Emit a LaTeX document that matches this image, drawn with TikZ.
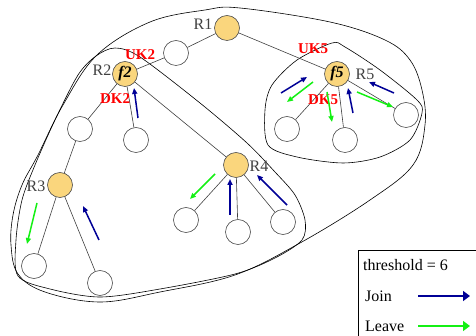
\documentclass[tikz,border=0pt]{standalone}
\usepackage{fontspec}
\setmainfont{Liberation Serif}
\usetikzlibrary{arrows.meta}
\definecolor{rootfill}{RGB}{250,214,125}
\definecolor{joinblue}{RGB}{0,0,150}
\definecolor{leavegreen}{RGB}{20,240,20}
\begin{document}
\begin{tikzpicture}[x=1pt,y=-1pt,
    member/.style={circle,draw=black!70,fill=white,minimum size=25pt,inner sep=0pt,line width=0.6pt},
    router/.style={member,fill=rootfill,font=\fontsize{16}{16}\selectfont\bfseries\itshape},
    rname/.style={font=\fontsize{16}{16}\selectfont,text=black!75,inner sep=0pt},
    keyname/.style={font=\fontsize{15}{15}\selectfont\bfseries,text=red,inner sep=0pt},
    link/.style={draw=black!75,line width=0.6pt},
    region/.style={draw=black,line width=0.6pt},
    joinarrow/.style={draw=joinblue,line width=1.5pt,-{Triangle[length=6pt,width=5pt]}},
    leavearrow/.style={draw=leavegreen,line width=1.5pt,-{Triangle[length=6pt,width=5pt]}},
    legendtext/.style={font=\fontsize{16}{16}\selectfont,anchor=west,inner sep=0pt}]
  \useasboundingbox (0,0) rectangle (476,336);
  % regions
  \draw[region] plot[smooth cycle,tension=0.6] coordinates {(240,8) (330,22) (385,40) (410,60) (422,90)
    (425,125) (413,165) (370,200) (300,243) (235,275) (160,292) (100,302) (45,292) (18,274) (11,245)
    (13,215) (22,185) (38,155) (63,105) (97,55) (150,22) (205,10)};
  \draw[region] plot[smooth cycle,tension=0.5] coordinates {(115,48) (140,57) (200,103) (247,143)
    (275,172) (295,195) (305,220) (302,240) (275,258) (235,274) (160,289) (100,297) (50,289)
    (18,276) (16,240) (22,200) (35,165) (55,120) (78,75) (96,56)};
  \draw[region] plot[smooth cycle,tension=0.5] coordinates {(332,43) (297,60) (272,85) (265,110)
    (268,145) (297,157) (343,163) (380,157) (410,140) (422,113) (417,100) (380,70) (345,47)};
  % routers and members
  \node[router] (r1) at (227,28) {};
  \node[member] (w1) at (176,53) {};
  \node[router] (r2) at (125,74) {f2};
  \node[member] (w2) at (80,129) {};
  \node[member] (w3) at (136,140) {};
  \node[router] (r3) at (60,185) {};
  \node[member] (w4) at (34,266) {};
  \node[member] (w5) at (100,283) {};
  \node[router] (r4) at (236,165) {};
  \node[member] (w6) at (186,220) {};
  \node[member] (w7) at (238,232) {};
  \node[member] (w8) at (283,222) {};
  \node[router] (r5) at (337,74) {f5};
  \node[member] (w9) at (287,129) {};
  \node[member] (w10) at (345,140) {};
  \node[member] (w11) at (406,115) {};
  % tree links
  \draw[link] (r1)--(w1)--(r2);
  \draw[link] (r2)--(w2)--(r3);
  \draw[link] (r2)--(w3);
  \draw[link] (r3)--(w4);
  \draw[link] (r3)--(w5);
  \draw[link] (r2)--(r4);
  \draw[link] (r4)--(w6);
  \draw[link] (r4)--(w7);
  \draw[link] (r4)--(w8);
  \draw[link] (r1)--(r5);
  \draw[link] (r5)--(w9);
  \draw[link] (r5)--(w10);
  \draw[link] (r5)--(w11);
  % names and keys
  \node[rname] (n1) at (203,24) {R1};
  \node[rname] (n2) at (102,70) {R2};
  \node[rname] (n3) at (36,186) {R3};
  \node[rname] (n4) at (259,166) {R4};
  \node[rname] (n5) at (365,74) {R5};
  \node[keyname] (uk2) at (140,55) {UK2};
  \node[keyname] (dk2) at (115,99) {DK2};
  \node[keyname] (uk5) at (313,49) {UK5};
  \node[keyname] (dk5) at (323,100) {DK5};
  % join and leave events
  \draw[joinarrow] (138,118) -- (134,88);
  \draw[leavearrow] (37,203) -- (27,244);
  \draw[joinarrow] (99,240) -- (83,206);
  \draw[leavearrow] (215,174) -- (190,199);
  \draw[joinarrow] (230,215) -- (230,179);
  \draw[joinarrow] (287,205) -- (257,175);
  \draw[joinarrow] (281,93) -- (307,77);
  \draw[leavearrow] (313,82) -- (287,102);
  \draw[leavearrow] (327,92) -- (332,122);
  \draw[joinarrow] (353,113) -- (348,88);
  \draw[leavearrow] (357,92) -- (393,107);
  \draw[joinarrow] (394,93) -- (369,82);
  % legend
  \draw[line width=0.6pt] (477,250) -- (358,250) -- (358,337);
  \node[legendtext] (thr) at (363,265) {threshold = 6};
  \node[legendtext] (jn) at (365,296) {Join};
  \node[legendtext] (lv) at (365,326) {Leave};
  \coordinate (js) at (418,296);
  \coordinate (je) at (470,296);
  \coordinate (ls) at (418,326);
  \coordinate (le) at (470,326);
  \draw[draw=joinblue,line width=2.6pt,-{Triangle[length=7pt,width=10pt]}] (js) -- (je);
  \draw[draw=leavegreen,line width=2.6pt,-{Triangle[length=7pt,width=10pt]}] (ls) -- (le);
\end{tikzpicture}
\end{document}
